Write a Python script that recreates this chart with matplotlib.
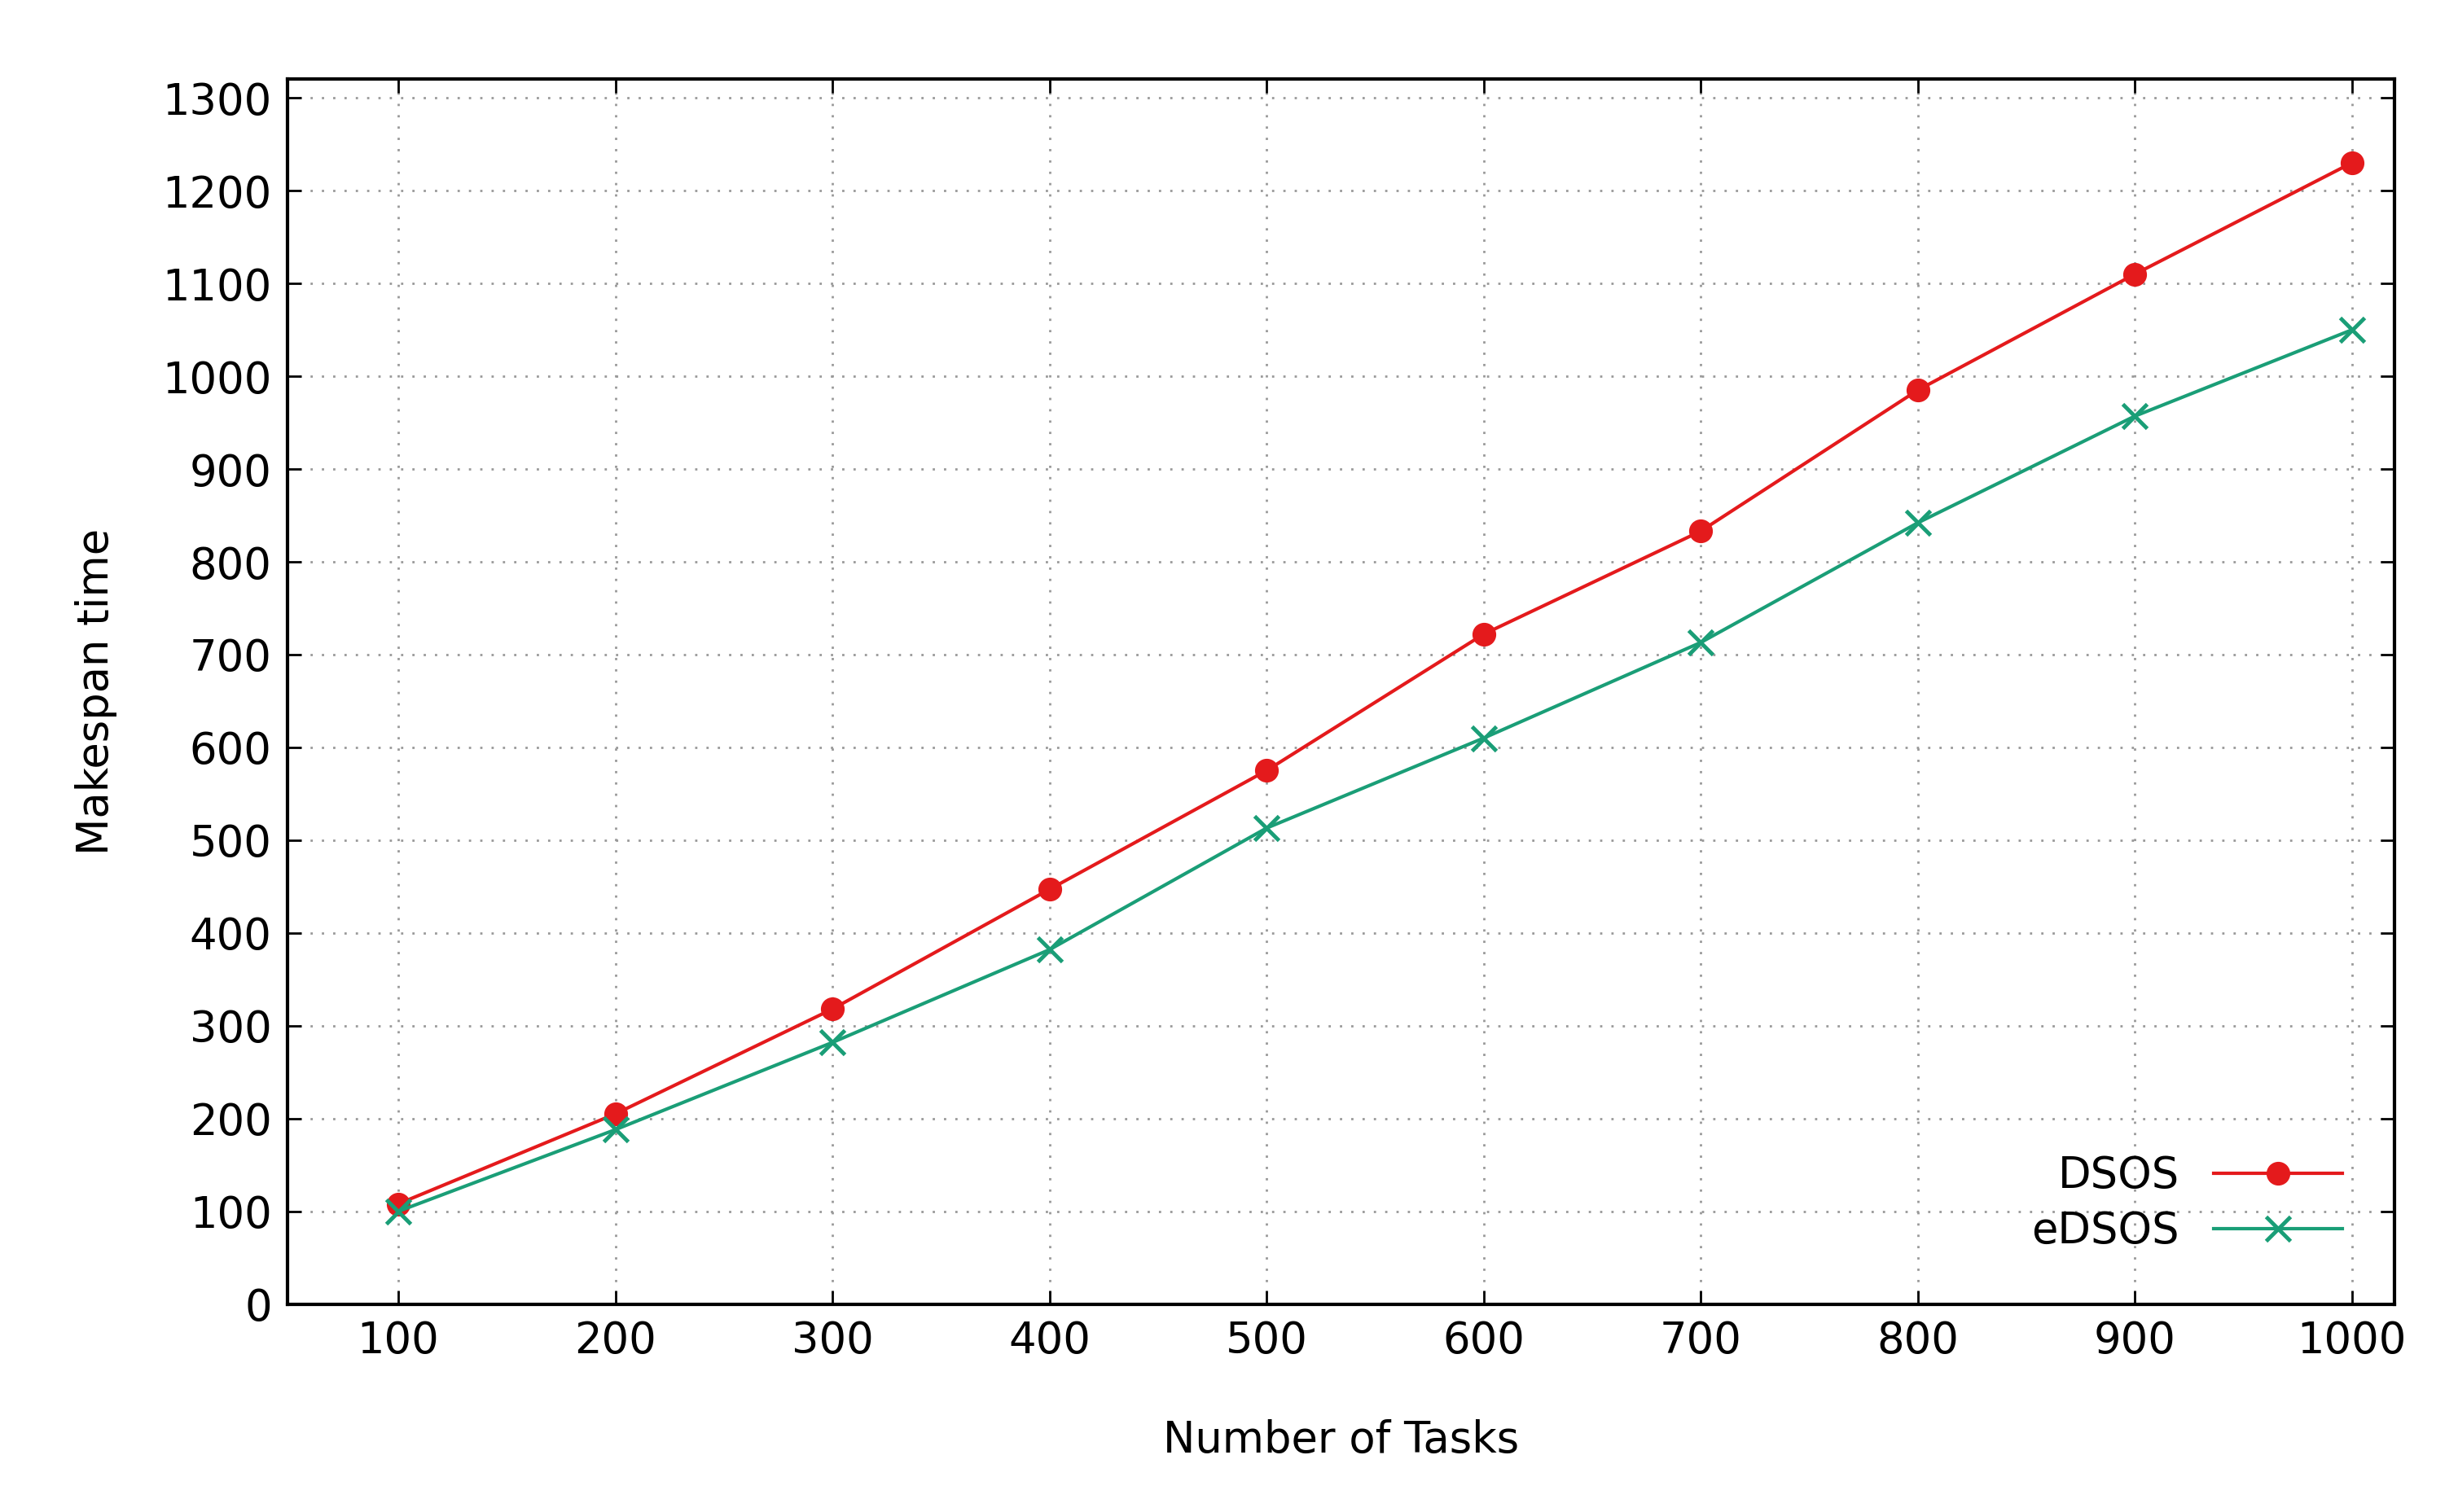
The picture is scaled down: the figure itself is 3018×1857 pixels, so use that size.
import matplotlib
matplotlib.use("Agg")
import matplotlib.pyplot as plt

tasks = [100, 200, 300, 400, 500, 600, 700, 800, 900, 1000]
dsos = [108, 205, 318, 447, 575, 722, 833, 985, 1110, 1230]
edsos = [100, 188, 282, 382, 513, 610, 713, 842, 957, 1050]
yticks = list(range(0, 1301, 100))

plt.rcParams['font.family'] = ['DejaVu Sans']
fig = plt.figure(figsize=(30.18, 18.57), dpi=100)
ax = fig.add_axes([0.117, 0.1375, 0.857, 0.81])
ax.plot(tasks, dsos, color='#e41a1c', lw=3, marker='o', ms=20, label='DSOS')
ax.plot(tasks, edsos, color='#1a9e77', lw=3, marker='x', ms=22, mew=3.5, label='eDSOS')
ax.set_xlim(49, 1019.5)
ax.set_ylim(0, 1320)
ax.set_xticks(tasks)
ax.set_yticks(yticks)
ax.tick_params(labelsize=38, direction='in', length=12, width=2, top=True, right=True, pad=14)
ax.grid(True, linestyle=(0, (1, 4)), color='#999999', lw=2)
for s in ax.spines.values():
    s.set_linewidth(3)
ax.set_xlabel('Number of Tasks', fontsize=38, labelpad=50)
ax.set_ylabel('Makespan time', fontsize=38, labelpad=40)
leg = ax.legend(loc='lower right', fontsize=38, frameon=False, markerfirst=False,
                handlelength=3.0, borderaxespad=0.8, labelspacing=0.3)
fig.savefig('out.png', dpi=100)
